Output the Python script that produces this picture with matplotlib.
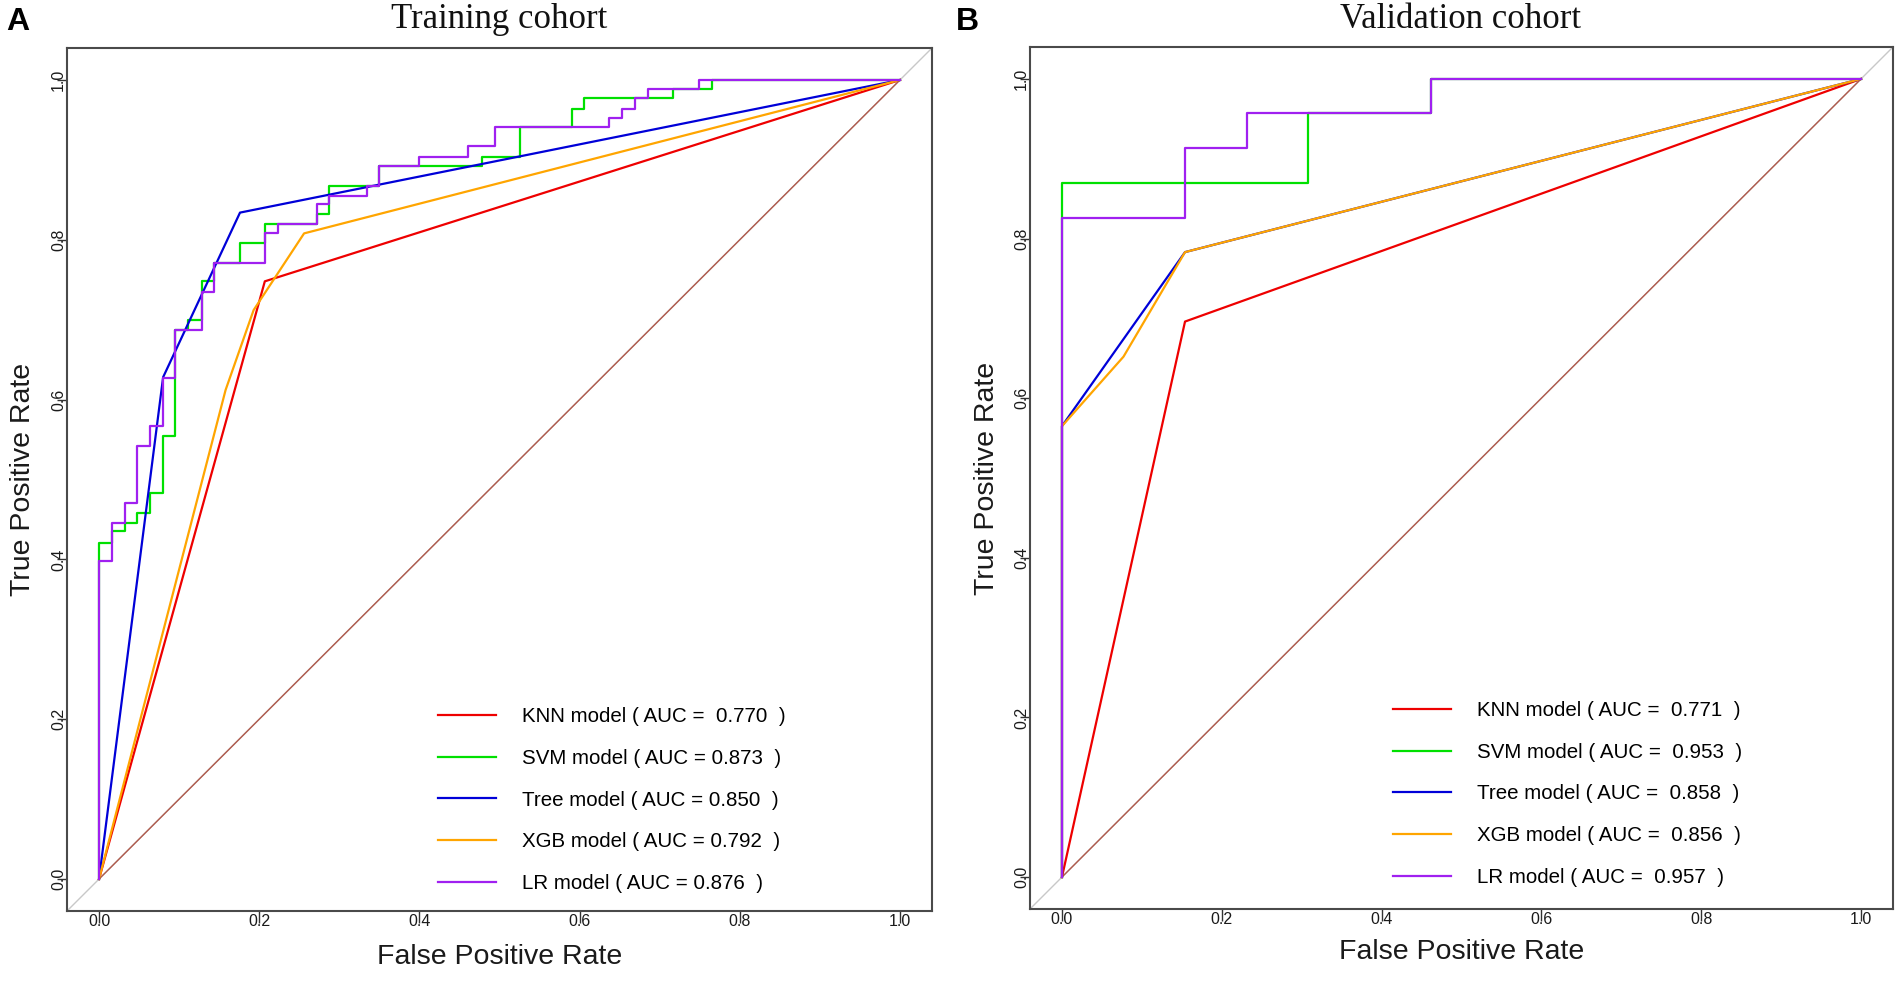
import matplotlib
matplotlib.use("Agg")
import matplotlib.pyplot as plt

plt.rcParams['font.family'] = ['Liberation Sans', 'DejaVu Sans']

# ---------------- data ----------------
models = ["KNN", "SVM", "Tree", "XGB", "LR"]
colors = ["#ee0000", "#00e000", "#0000d8", "#ffa500", "#a020f0"]
stepwise = [False, True, False, False, True]

# Training cohort
train_auc = ["0.770", "0.873", "0.850", "0.792", "0.876"]
train_gap = ["  ", " ", " ", " ", " "]
train_fpr = {
    "KNN": [0, 0.207, 1],
    "SVM": [0, 0, 0.016, 0.032, 0.048, 0.064, 0.080, 0.095, 0.111, 0.128, 0.144,
            0.176, 0.207, 0.272, 0.287, 0.350, 0.478, 0.526, 0.590, 0.606, 0.716,
            0.765, 1.0],
    "Tree": [0, 0.080, 0.176, 1],
    "XGB": [0, 0.158, 0.193, 0.256, 1],
    "LR": [0, 0, 0.016, 0.032, 0.048, 0.064, 0.080, 0.095, 0.128, 0.144, 0.207,
           0.223, 0.272, 0.287, 0.334, 0.350, 0.399, 0.461, 0.495, 0.637, 0.653,
           0.669, 0.685, 0.749, 1.0],
}
train_tpr = {
    "KNN": [0, 0.748, 1],
    "SVM": [0, 0.421, 0.435, 0.446, 0.458, 0.483, 0.554, 0.687, 0.700, 0.748, 0.771,
            0.796, 0.820, 0.832, 0.867, 0.892, 0.904, 0.941, 0.964, 0.977, 0.989,
            1.0, 1.0],
    "Tree": [0, 0.628, 0.834, 1],
    "XGB": [0, 0.612, 0.712, 0.808, 1],
    "LR": [0, 0.398, 0.446, 0.471, 0.542, 0.567, 0.627, 0.687, 0.735, 0.771, 0.808,
           0.820, 0.845, 0.855, 0.867, 0.892, 0.904, 0.917, 0.941, 0.952, 0.964,
           0.977, 0.989, 1.0, 1.0],
}

# Validation cohort
valid_auc = ["0.771", "0.953", "0.858", "0.856", "0.957"]
valid_gap = ["  ", "  ", "  ", "  ", "  "]
valid_fpr = {
    "KNN": [0, 0.154, 1],
    "SVM": [0, 0, 0.308, 0.462, 1.0],
    "Tree": [0, 0, 0.154, 1],
    "XGB": [0, 0, 0.077, 0.154, 1],
    "LR": [0, 0, 0.154, 0.231, 0.462, 1.0],
}
valid_tpr = {
    "KNN": [0, 0.696, 1],
    "SVM": [0, 0.870, 0.957, 1.0, 1.0],
    "Tree": [0, 0.565, 0.783, 1],
    "XGB": [0, 0.565, 0.652, 0.783, 1],
    "LR": [0, 0.826, 0.913, 0.957, 1.0, 1.0],
}

ticks = [0.0, 0.2, 0.4, 0.6, 0.8, 1.0]
tick_labels = ["0.0", "0.2", "0.4", "0.6", "0.8", "1.0"]

# ---------------- figure ----------------
W, H = 1902, 983
fig = plt.figure(figsize=(W / 100, H / 100), dpi=100)


def px_axes(l, t, r, b):
    return fig.add_axes([l / W, 1 - b / H, (r - l) / W, (b - t) / H])


def draw_panel(ax, fpr, tpr, aucs, gaps, leg_xy, xlab_y, ylab_x):
    ax.set_xlim(-0.04, 1.04)
    ax.set_ylim(-0.04, 1.04)
    ax.axline((0, 0), (1, 1), color="#c8c8c8", lw=1.0, zorder=1)
    ax.plot([0, 1], [0, 1], color="#b05a4c", lw=1.0, zorder=2)
    handles = []
    for m, c, st in zip(models, colors, stepwise):
        kw = dict(drawstyle="steps-post") if st else {}
        h, = ax.plot(fpr[m], tpr[m], color=c, lw=1.6, zorder=3, **kw)
        handles.append(h)
    labels = [f"{m} model ( AUC ={g}{a}  )" for m, g, a in zip(models, gaps, aucs)]
    ax.legend(handles, labels, loc="upper left", bbox_to_anchor=leg_xy,
              frameon=False, fontsize=14.8, handlelength=2.8, handletextpad=1.3,
              labelspacing=1.1, borderpad=0, borderaxespad=0)
    for s in ax.spines.values():
        s.set_color("#4a4a4a")
        s.set_linewidth(1.5)
    ax.set_xticks(ticks)
    ax.set_xticklabels(tick_labels)
    ax.set_yticks(ticks)
    ax.set_yticklabels(tick_labels)
    ax.tick_params(axis="x", direction="out", length=8.6, width=1.0, pad=-6.5,
                   labelsize=11.5, color="#333333", labelcolor="#1a1a1a")
    ax.tick_params(axis="y", direction="out", length=7.2, width=1.0, pad=-6.5,
                   labelsize=11.5, color="#333333", labelcolor="#1a1a1a",
                   labelrotation=90)
    for lab in ax.get_yticklabels():
        lab.set_va("center")
    ax.set_xlabel("False Positive Rate", fontsize=20.5, color="#1a1a1a")
    ax.set_ylabel("True Positive Rate", fontsize=20.5, color="#1a1a1a")
    ax.xaxis.set_label_coords(0.5, xlab_y)
    ax.yaxis.set_label_coords(ylab_x, 0.5)
    ax.xaxis.label.set_va("center")
    ax.yaxis.label.set_va("center")


axL = px_axes(67, 48, 932, 911)
axR = px_axes(1030, 47, 1893, 909)

draw_panel(axL, train_fpr, train_tpr, train_auc, train_gap, (0.429, 0.236),
           (911 - 957) / 863, (23 - 67) / 865)
draw_panel(axR, valid_fpr, valid_tpr, valid_auc, valid_gap, (0.4206, 0.241),
           (909 - 952) / 862, (987 - 1030) / 863)

fig.text(499 / W, 1 - 19.5 / H, "Training cohort", ha="center", va="center",
         fontsize=25, family=["Liberation Serif", "DejaVu Serif"], color="#111111")
fig.text(1461 / W, 1 - 19.5 / H, "Validation cohort", ha="center", va="center",
         fontsize=25, family=["Liberation Serif", "DejaVu Serif"], color="#111111")
fig.text(18 / W, 1 - 22 / H, "A", ha="center", va="center", fontsize=23,
         fontweight="bold")
fig.text(967 / W, 1 - 22 / H, "B", ha="center", va="center", fontsize=23,
         fontweight="bold")

fig.savefig("out.png", dpi=100)
